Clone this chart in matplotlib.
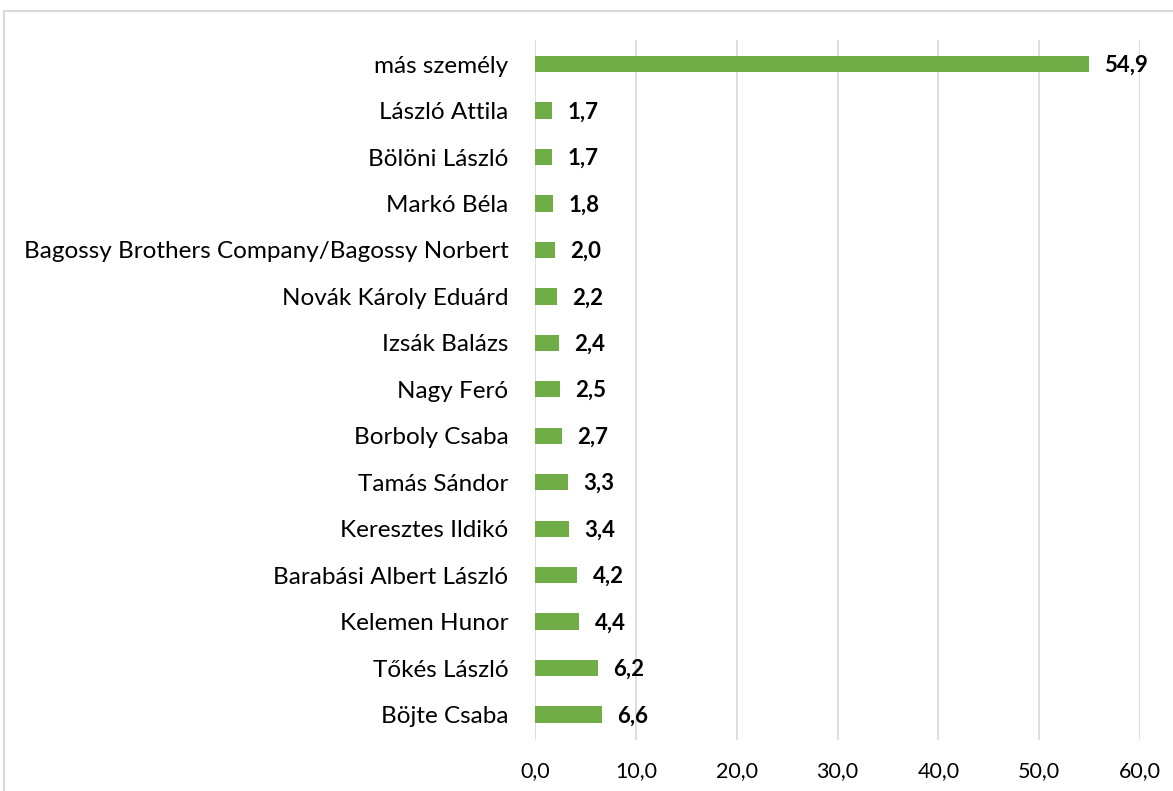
import matplotlib.pyplot as plt
from matplotlib.patches import Rectangle

names = ["más személy", "László Attila", "Bölöni László", "Markó Béla",
         "Bagossy Brothers Company/Bagossy Norbert", "Novák Károly Eduárd",
         "Izsák Balázs", "Nagy Feró", "Borboly Csaba", "Tamás Sándor",
         "Keresztes Ildikó", "Barabási Albert László", "Kelemen Hunor",
         "Tőkés László", "Böjte Csaba"]
values = [54.9, 1.7, 1.7, 1.8, 2.0, 2.2, 2.4, 2.5, 2.7, 3.3, 3.4, 4.2, 4.4, 6.2, 6.6]
xticks = [0, 10, 20, 30, 40, 50, 60]

plt.rcParams['font.family'] = ['Lato', 'DejaVu Sans']

fig = plt.figure(figsize=(11.73, 7.91), dpi=100)
# chart frame
fig.patches.append(Rectangle((4/1173, -0.1), 1.2, 1 - 11/791 + 0.1, transform=fig.transFigure,
                             fill=False, edgecolor='#d9d9d9', lw=1.5))

ax = fig.add_axes([535/1173, 1 - 740/791, 605/1173, 700/791])
pos = list(range(len(names)))
ax.barh(pos, values, height=0.35, color='#70ad47')
for p, v in zip(pos, values):
    ax.annotate(f"{v:.1f}".replace('.', ','), (v, p), xytext=(11, -1), textcoords='offset points',
                va='center', ha='left', fontsize=16, fontweight='bold')

ax.set_yticks(pos)
ax.set_yticklabels(names, fontsize=17.5)
ax.set_ylim(14.55, -0.52)
ax.set_xlim(0, 60)
ax.set_xticks(xticks)
ax.set_xticklabels([f"{t:.1f}".replace('.', ',') for t in xticks], fontsize=15.5)
ax.tick_params(length=0)
ax.tick_params(axis='y', pad=19)
ax.tick_params(axis='x', pad=15)
ax.grid(axis='x', color='#d9d9d9', lw=1.2)
ax.set_axisbelow(True)
for s in ax.spines.values():
    s.set_visible(False)

fig.savefig('out.png', dpi=100)
